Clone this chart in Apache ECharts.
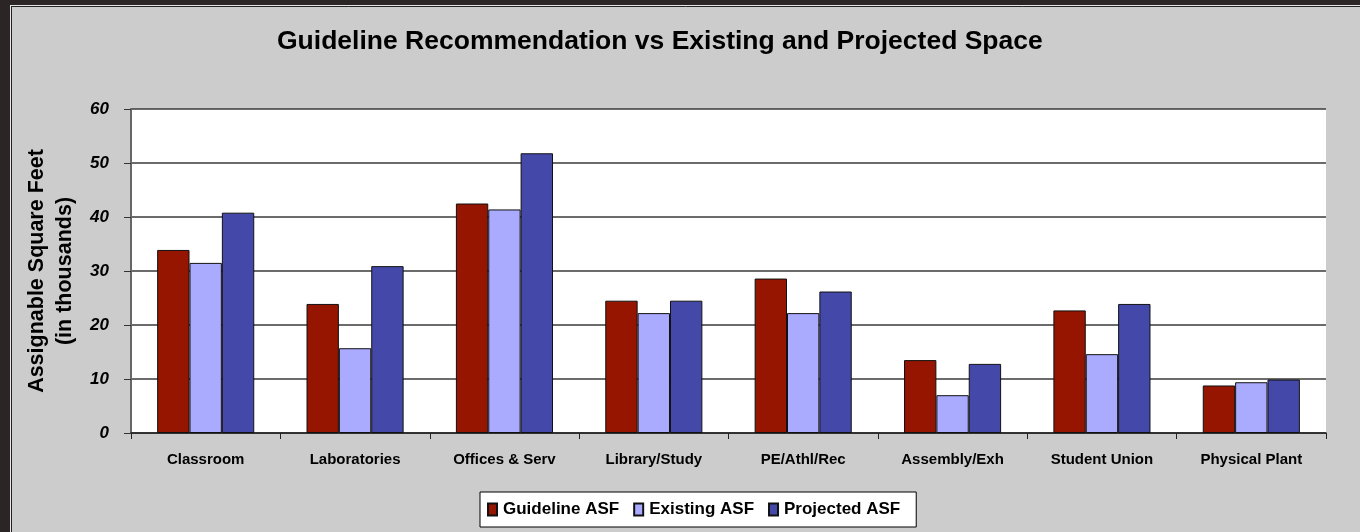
<!DOCTYPE html>
<html>
<head>
<meta charset="utf-8">
<title>Guideline Recommendation vs Existing and Projected Space</title>
<script src="https://cdn.jsdelivr.net/npm/echarts@6/dist/echarts.min.js"></script>
<style>
  html, body { margin: 0; padding: 0; background: #cccccc; }
  #chart { width: 1360px; height: 532px; }
</style>
</head>
<body>
<div id="chart"></div>
<script>
// Space categories along the x axis
const categories = ['Classroom', 'Laboratories', 'Offices & Serv', 'Library/Study',
  'PE/Athl/Rec', 'Assembly/Exh', 'Student Union', 'Physical Plant'];

// Assignable square feet, in thousands
const guidelineASF = [33.9, 23.9, 42.5, 24.5, 28.6, 13.5, 22.7, 8.8];
const existingASF  = [31.5, 15.7, 41.4, 22.2, 22.2, 7.0, 14.6, 9.4];
const projectedASF = [40.8, 30.9, 51.8, 24.5, 26.2, 12.8, 23.9, 9.9];

const seriesNames = ['Guideline ASF', 'Existing ASF', 'Projected ASF'];
const yTicks = [0, 10, 20, 30, 40, 50, 60];

const FONT = '"Liberation Sans", Arial, sans-serif';
const colors = ['#951500', '#aaaaff', '#4449a9'];

const chart = echarts.init(document.getElementById('chart'), null, { renderer: 'canvas' });

function barSeries(name, data, color) {
  return {
    name: name,
    type: 'bar',
    data: data,
    barGap: '0%',
    barCategoryGap: '35%',
    itemStyle: { color: color, borderColor: '#111111', borderWidth: 1 },
    emphasis: { disabled: true }
  };
}

chart.setOption({
  backgroundColor: '#cccccc',
  animation: false,
  title: {
    text: 'Guideline Recommendation vs Existing and Projected Space',
    left: 272,
    top: 23,
    textStyle: { fontFamily: FONT, fontSize: 26.5, fontWeight: 'bold', color: '#000' }
  },
  grid: { left: 131, right: 34, top: 109, bottom: 99, show: true, backgroundColor: '#ffffff', borderWidth: 0 },
  legend: {
    data: seriesNames,
    icon: 'rect',
    left: 480,
    top: 492,
    padding: [9, 16, 9, 7],
    itemGap: 14,
    itemWidth: 9,
    itemHeight: 12,
    backgroundColor: '#ffffff',
    borderColor: '#000000',
    borderWidth: 1,
    textStyle: { fontFamily: FONT, fontSize: 17, fontWeight: 'bold', color: '#000', padding: [0, 0, 0, 1] }
  },
  xAxis: {
    type: 'category',
    data: categories,
    boundaryGap: true,
    axisLine: { show: true, lineStyle: { color: '#222', width: 1.5 } },
    axisTick: { show: true, inside: false, length: 6, alignWithLabel: false, lineStyle: { color: '#222' } },
    axisLabel: { margin: 19, fontFamily: FONT, fontSize: 15, fontWeight: 'bold', color: '#000' },
    splitLine: { show: false }
  },
  yAxis: {
    type: 'value',
    min: yTicks[0],
    max: yTicks[yTicks.length - 1],
    interval: 10,
    name: 'Assignable Square Feet\n(in thousands)',
    nameLocation: 'middle',
    nameGap: 50,
    nameTextStyle: { fontFamily: FONT, fontSize: 21.5, fontWeight: 'bold', color: '#000', lineHeight: 28 },
    axisLine: { show: true, lineStyle: { color: '#666', width: 2 } },
    axisTick: { show: true, inside: false, length: 7, lineStyle: { color: '#333' } },
    axisLabel: {
      margin: 22,
      fontFamily: FONT, fontSize: 17, fontWeight: 'bold', fontStyle: 'italic', color: '#000',
      formatter: function (v) { return yTicks.indexOf(v) >= 0 ? String(v) : ''; }
    },
    splitLine: { show: true, lineStyle: { color: '#3a3a3a', width: 1.5 } }
  },
  series: [
    barSeries(seriesNames[0], guidelineASF, colors[0]),
    barSeries(seriesNames[1], existingASF, colors[1]),
    barSeries(seriesNames[2], projectedASF, colors[2])
  ],
  graphic: [
    // dark frame on the left and top edges
    { type: 'rect', left: 0, top: 0, shape: { width: 10, height: 532 }, style: { fill: '#2b2625' }, z: 100 },
    { type: 'rect', left: 0, top: 0, shape: { width: 1360, height: 5 }, style: { fill: '#2b2625' }, z: 100 },
    { type: 'line', shape: { x1: 10.5, y1: 5, x2: 10.5, y2: 532 }, style: { stroke: '#e6e6e6', lineWidth: 1 }, z: 100 },
    { type: 'line', shape: { x1: 10, y1: 5.5, x2: 1360, y2: 5.5 }, style: { stroke: '#e6e6e6', lineWidth: 1 }, z: 100 },
    { type: 'line', shape: { x1: 11.5, y1: 6, x2: 11.5, y2: 532 }, style: { stroke: '#222', lineWidth: 1 }, z: 100 },
    { type: 'line', shape: { x1: 11, y1: 6.5, x2: 1360, y2: 6.5 }, style: { stroke: '#222', lineWidth: 1 }, z: 100 }
  ]
});
</script>
</body>
</html>
